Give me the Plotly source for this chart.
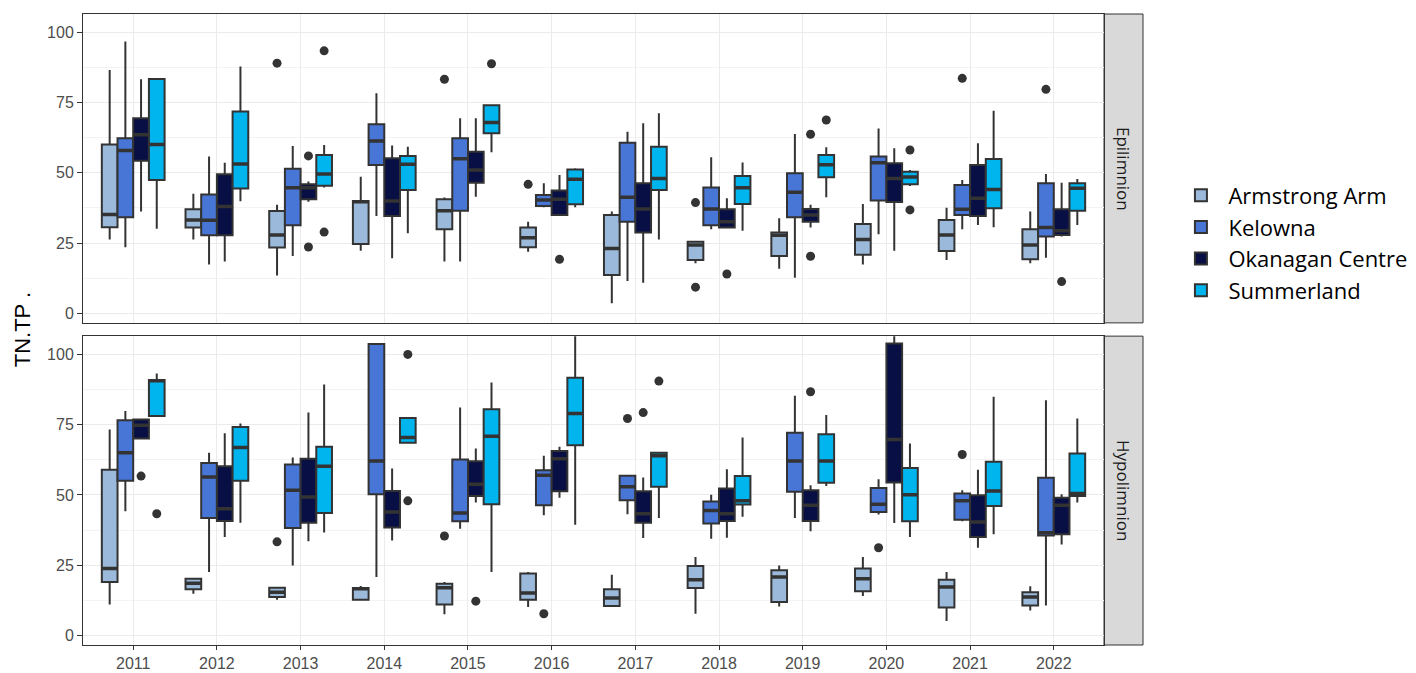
import plotly.graph_objects as go
from plotly.subplots import make_subplots

# ---------------------------------------------------------------------------
# Data: TN:TP ratio summary per year and site, for each lake layer.
# Each row is [lower whisker, Q1, median, Q3, upper whisker].
# ---------------------------------------------------------------------------
YEARS = [2011, 2012, 2013, 2014, 2015, 2016, 2017, 2018, 2019, 2020, 2021, 2022]
SITES = ["Armstrong Arm", "Kelowna", "Okanagan Centre", "Summerland"]
LAYERS = ["Epilimnion", "Hypolimnion"]

EPI_ARMSTRONG = [
    [26.3, 30.6, 35.2, 60.1, 86.6], [26.3, 30.5, 33.2, 37.0, 42.5],
    [13.5, 23.4, 27.9, 36.4, 38.6], [22.3, 24.7, 39.7, 40.0, 48.6],
    [18.4, 29.9, 36.5, 40.6, 41.2], [21.9, 23.5, 26.9, 30.5, 32.6],
    [3.6, 13.6, 23.1, 35.0, 36.2], [17.8, 19.0, 24.3, 25.5, 25.7],
    [15.9, 20.4, 27.8, 28.8, 33.8], [17.4, 20.8, 26.3, 31.8, 38.9],
    [19.0, 22.2, 27.9, 33.2, 37.6], [17.8, 19.2, 24.3, 29.9, 36.2],
]
EPI_KELOWNA = [
    [23.5, 34.2, 57.9, 62.3, 96.7], [17.4, 27.8, 33.1, 42.3, 55.8],
    [20.4, 31.3, 44.7, 51.4, 59.5], [34.6, 52.8, 61.3, 67.3, 78.3],
    [18.4, 36.5, 55.0, 62.3, 69.4], [37.7, 38.2, 40.3, 42.1, 46.3],
    [11.5, 32.6, 41.3, 60.7, 64.6], [29.9, 31.3, 37.1, 44.8, 55.5],
    [12.7, 34.2, 43.1, 49.8, 63.8], [28.1, 40.1, 53.6, 55.8, 65.8],
    [29.9, 35.0, 37.0, 45.7, 47.4], [19.8, 27.3, 30.5, 46.3, 49.6],
]
EPI_OKANAGAN = [
    [36.2, 54.3, 63.5, 69.4, 83.3], [18.4, 27.8, 38.0, 49.5, 53.6],
    [39.7, 40.6, 44.7, 45.9, 46.9], [19.6, 34.6, 40.0, 55.2, 59.7],
    [41.5, 46.5, 51.0, 57.5, 69.4], [35.0, 35.0, 40.6, 43.7, 49.2],
    [10.9, 28.8, 37.1, 46.3, 67.6], [30.5, 30.5, 32.6, 37.0, 40.9],
    [30.5, 32.6, 35.0, 37.1, 38.6], [22.3, 39.6, 48.0, 53.4, 58.7],
    [31.4, 34.6, 40.9, 52.8, 60.5], [27.3, 27.9, 29.4, 37.0, 46.5],
]
EPI_SUMMERLAND = [
    [30.1, 47.4, 60.1, 83.4, 83.4], [39.9, 44.4, 53.1, 71.8, 87.8],
    [44.8, 45.4, 49.6, 56.3, 59.9], [28.5, 43.9, 53.0, 56.0, 59.3],
    [57.3, 64.1, 67.9, 74.0, 74.0], [37.7, 38.8, 47.7, 51.2, 51.6],
    [26.3, 43.9, 48.0, 59.3, 71.2], [29.4, 38.9, 44.7, 48.9, 53.7],
    [41.3, 48.4, 52.9, 56.3, 59.1], [45.3, 45.9, 48.5, 50.4, 51.0],
    [30.6, 37.4, 44.1, 54.9, 72.1], [31.4, 36.5, 44.5, 46.3, 47.8],
]

HYP_ARMSTRONG = [
    [11.0, 19.0, 23.8, 59.0, 73.3], [14.8, 16.4, 18.6, 20.2, 20.2],
    [12.7, 13.7, 15.4, 17.0, 17.0], [12.7, 12.7, 16.6, 16.9, 17.6],
    [7.5, 11.0, 17.0, 18.4, 19.0], [10.1, 12.7, 15.1, 22.0, 22.6],
    [10.1, 10.5, 13.3, 16.4, 21.6], [7.7, 16.9, 19.8, 24.7, 27.9],
    [10.3, 11.9, 20.8, 23.2, 24.9], [14.0, 15.7, 20.2, 23.8, 27.9],
    [5.1, 9.9, 17.2, 19.8, 22.6], [8.9, 10.7, 13.7, 15.4, 17.5],
]
HYP_KELOWNA = [
    [44.2, 55.0, 65.0, 76.6, 79.9], [22.6, 41.8, 56.4, 61.4, 65.0],
    [24.9, 38.2, 51.7, 60.8, 63.3], [20.8, 50.2, 62.1, 103.7, 103.7],
    [38.0, 40.6, 43.6, 62.6, 81.1], [42.8, 46.3, 57.0, 58.8, 63.9],
    [43.1, 48.1, 52.9, 56.8, 56.8], [34.4, 39.8, 44.5, 47.7, 50.1],
    [41.8, 51.1, 62.1, 72.1, 85.3], [43.0, 43.9, 46.7, 52.5, 55.6],
    [40.6, 41.2, 47.9, 50.5, 51.7], [10.7, 35.6, 36.5, 56.1, 83.7],
]
HYP_OKANAGAN = [
    [70.1, 70.1, 74.8, 76.8, 76.8], [35.0, 40.7, 45.1, 60.2, 71.9],
    [33.5, 40.1, 49.3, 62.9, 79.3], [33.8, 38.4, 43.9, 51.4, 59.4],
    [47.3, 49.6, 53.8, 62.0, 66.5], [49.0, 51.3, 62.9, 65.6, 67.1],
    [34.7, 40.1, 43.3, 51.3, 56.2], [34.8, 40.7, 43.3, 52.3, 59.1],
    [37.1, 40.7, 46.3, 51.7, 53.4], [40.0, 54.4, 69.7, 103.9, 112.0],
    [31.2, 35.0, 40.4, 49.9, 59.0], [32.4, 36.0, 46.3, 49.0, 50.2],
]
HYP_SUMMERLAND = [
    [78.1, 78.1, 90.6, 90.9, 93.2], [40.1, 55.0, 66.9, 74.2, 75.4],
    [36.6, 43.6, 60.2, 67.1, 89.3], [68.6, 68.6, 70.4, 77.4, 77.4],
    [22.6, 46.7, 70.9, 80.5, 90.0], [39.4, 67.7, 79.0, 91.7, 112.0],
    [41.8, 52.9, 63.9, 65.0, 65.0], [42.2, 46.6, 47.9, 56.7, 70.4],
    [53.2, 54.3, 62.1, 71.6, 78.4], [35.0, 40.6, 50.1, 59.6, 68.3],
    [36.0, 46.1, 51.4, 61.8, 84.9], [47.3, 49.6, 50.5, 64.7, 77.2],
]

# Outlying observations: (year, site, value)
EPI_OUTLIERS = [
    (2013, "Armstrong Arm", 89.0), (2013, "Okanagan Centre", 56.0),
    (2013, "Okanagan Centre", 23.6), (2013, "Summerland", 93.4),
    (2013, "Summerland", 28.9), (2015, "Armstrong Arm", 83.3),
    (2015, "Summerland", 88.8), (2016, "Armstrong Arm", 45.9),
    (2016, "Okanagan Centre", 19.2), (2018, "Armstrong Arm", 39.4),
    (2018, "Armstrong Arm", 9.3), (2018, "Okanagan Centre", 14.0),
    (2019, "Okanagan Centre", 63.7), (2019, "Okanagan Centre", 20.3),
    (2019, "Summerland", 68.8), (2020, "Summerland", 58.1),
    (2020, "Summerland", 36.8), (2021, "Kelowna", 83.6),
    (2022, "Kelowna", 79.7), (2022, "Okanagan Centre", 11.3),
]
HYP_OUTLIERS = [
    (2011, "Okanagan Centre", 56.7), (2011, "Summerland", 43.3),
    (2013, "Armstrong Arm", 33.3), (2014, "Summerland", 100.0),
    (2014, "Summerland", 47.9), (2015, "Armstrong Arm", 35.4),
    (2015, "Okanagan Centre", 12.2), (2016, "Kelowna", 7.7),
    (2017, "Kelowna", 77.2), (2017, "Okanagan Centre", 79.3),
    (2017, "Summerland", 90.5), (2019, "Okanagan Centre", 86.7),
    (2020, "Kelowna", 31.2), (2021, "Kelowna", 64.4),
]

SITE_COLORS = ["#9BB9DA", "#4876D6", "#080F45", "#00B4EE"]

STATS = {
    "Epilimnion": [EPI_ARMSTRONG, EPI_KELOWNA, EPI_OKANAGAN, EPI_SUMMERLAND],
    "Hypolimnion": [HYP_ARMSTRONG, HYP_KELOWNA, HYP_OKANAGAN, HYP_SUMMERLAND],
}
OUTLIERS = {"Epilimnion": EPI_OUTLIERS, "Hypolimnion": HYP_OUTLIERS}

# ---------------------------------------------------------------------------
# Dodged positions: each year occupies one unit, four boxes share 0.75 of it.
# ---------------------------------------------------------------------------
DODGE_TOTAL = 0.75
BOX_W = DODGE_TOTAL / len(SITES)


def dodge_x(year, site):
    return YEARS.index(year) + (SITES.index(site) - (len(SITES) - 1) / 2) * BOX_W


INK = "#333333"
GRID = "#EBEBEB"
TICK_FONT = dict(family="Liberation Sans, Arial, sans-serif", size=16, color="#4D4D4D")

fig = make_subplots(rows=2, cols=1, shared_xaxes=True, vertical_spacing=0.021)

for row, layer in enumerate(LAYERS, start=1):
    for s_idx, site in enumerate(SITES):
        rows = STATS[layer][s_idx]
        xs = [dodge_x(y, site) for y in YEARS]
        fig.add_trace(
            go.Box(
                x=xs,
                lowerfence=[r[0] for r in rows],
                q1=[r[1] for r in rows],
                median=[r[2] for r in rows],
                q3=[r[3] for r in rows],
                upperfence=[r[4] for r in rows],
                width=BOX_W,
                whiskerwidth=0,
                fillcolor=SITE_COLORS[s_idx],
                line=dict(color=INK, width=2),
                boxpoints=False,
                name=site,
                legendgroup=site,
                showlegend=(row == 1),
                hoverinfo="skip",
            ),
            row=row, col=1,
        )
        # heavier median bar, drawn as a flat box at the median value
        med = [r[2] for r in rows]
        fig.add_trace(
            go.Box(
                x=xs, lowerfence=med, q1=med, median=med, q3=med, upperfence=med,
                width=BOX_W * 0.97, whiskerwidth=0,
                fillcolor=INK, line=dict(color=INK, width=3.5),
                boxpoints=False, showlegend=False, legendgroup=site,
                hoverinfo="skip",
            ),
            row=row, col=1,
        )
    pts = OUTLIERS[layer]
    fig.add_trace(
        go.Scatter(
            x=[dodge_x(y, s) for y, s, _ in pts],
            y=[v for _, _, v in pts],
            mode="markers",
            marker=dict(color=INK, size=9),
            showlegend=False,
            hoverinfo="skip",
        ),
        row=row, col=1,
    )

YRANGE = [-3.4, 106.5]
XRANGE = [-0.6, len(YEARS) - 0.4]

for row in (1, 2):
    fig.update_yaxes(
        range=YRANGE, tickvals=[0, 25, 50, 75, 100],
        showgrid=True, gridcolor=GRID, gridwidth=1.3, zeroline=False,
        minor=dict(dtick=12.5, tick0=0, showgrid=True, gridcolor="#F3F3F3", gridwidth=0.8),
        ticks="outside", ticklen=5, tickcolor=INK, tickwidth=1,
        tickfont=TICK_FONT, automargin=False,
        showline=True, mirror=True, linecolor=INK, linewidth=1,
        row=row, col=1,
    )
    fig.update_xaxes(
        range=XRANGE, tickvals=list(range(len(YEARS))), ticktext=[str(y) for y in YEARS],
        showgrid=True, gridcolor=GRID, gridwidth=1.3, zeroline=False,
        showline=True, mirror=True, linecolor=INK, linewidth=1,
        tickfont=TICK_FONT, automargin=False,
        row=row, col=1,
    )
fig.update_xaxes(showticklabels=False, ticks="", row=1, col=1)
fig.update_xaxes(ticks="outside", ticklen=4, tickcolor=INK, tickwidth=1,
                 ticklabelstandoff=0, row=2, col=1)

# Facet strips on the right-hand side
STRIP_X1 = 1.0382
for row, (layer, yref) in enumerate(zip(LAYERS, ["y domain", "y2 domain"]), start=1):
    fig.add_shape(
        type="rect", xref="paper", yref=yref,
        x0=1.0, x1=STRIP_X1, y0=0, y1=1,
        fillcolor="#D9D9D9", line=dict(color=INK, width=1), layer="below",
    )
    fig.add_annotation(
        text=layer, xref="paper", yref=yref,
        x=(1.0 + STRIP_X1) / 2, y=0.5, xanchor="center", yanchor="middle",
        showarrow=False, textangle=90,
        font=dict(family="Open Sans, sans-serif", size=17, color="#1A1A1A"),
    )

# Shared y-axis title
fig.add_annotation(
    text="TN.TP .", xref="paper", yref="paper",
    x=-0.059, y=0.5, xanchor="center", yanchor="middle",
    showarrow=False, textangle=-90,
    font=dict(family="Liberation Sans, Arial, sans-serif", size=22, color="#000000"),
)

fig.update_layout(
    width=1416, height=673,
    margin=dict(l=83, r=312, t=14, b=28, autoexpand=False),
    paper_bgcolor="white", plot_bgcolor="white",
    boxmode="overlay",
    legend=dict(
        x=1.068, y=0.637, xanchor="left", yanchor="middle",
        font=dict(family="Open Sans, sans-serif", size=22, color="#000000"),
        tracegroupgap=0, itemwidth=45,
        bgcolor="rgba(0,0,0,0)",
    ),
)

fig.write_html("out.html")
